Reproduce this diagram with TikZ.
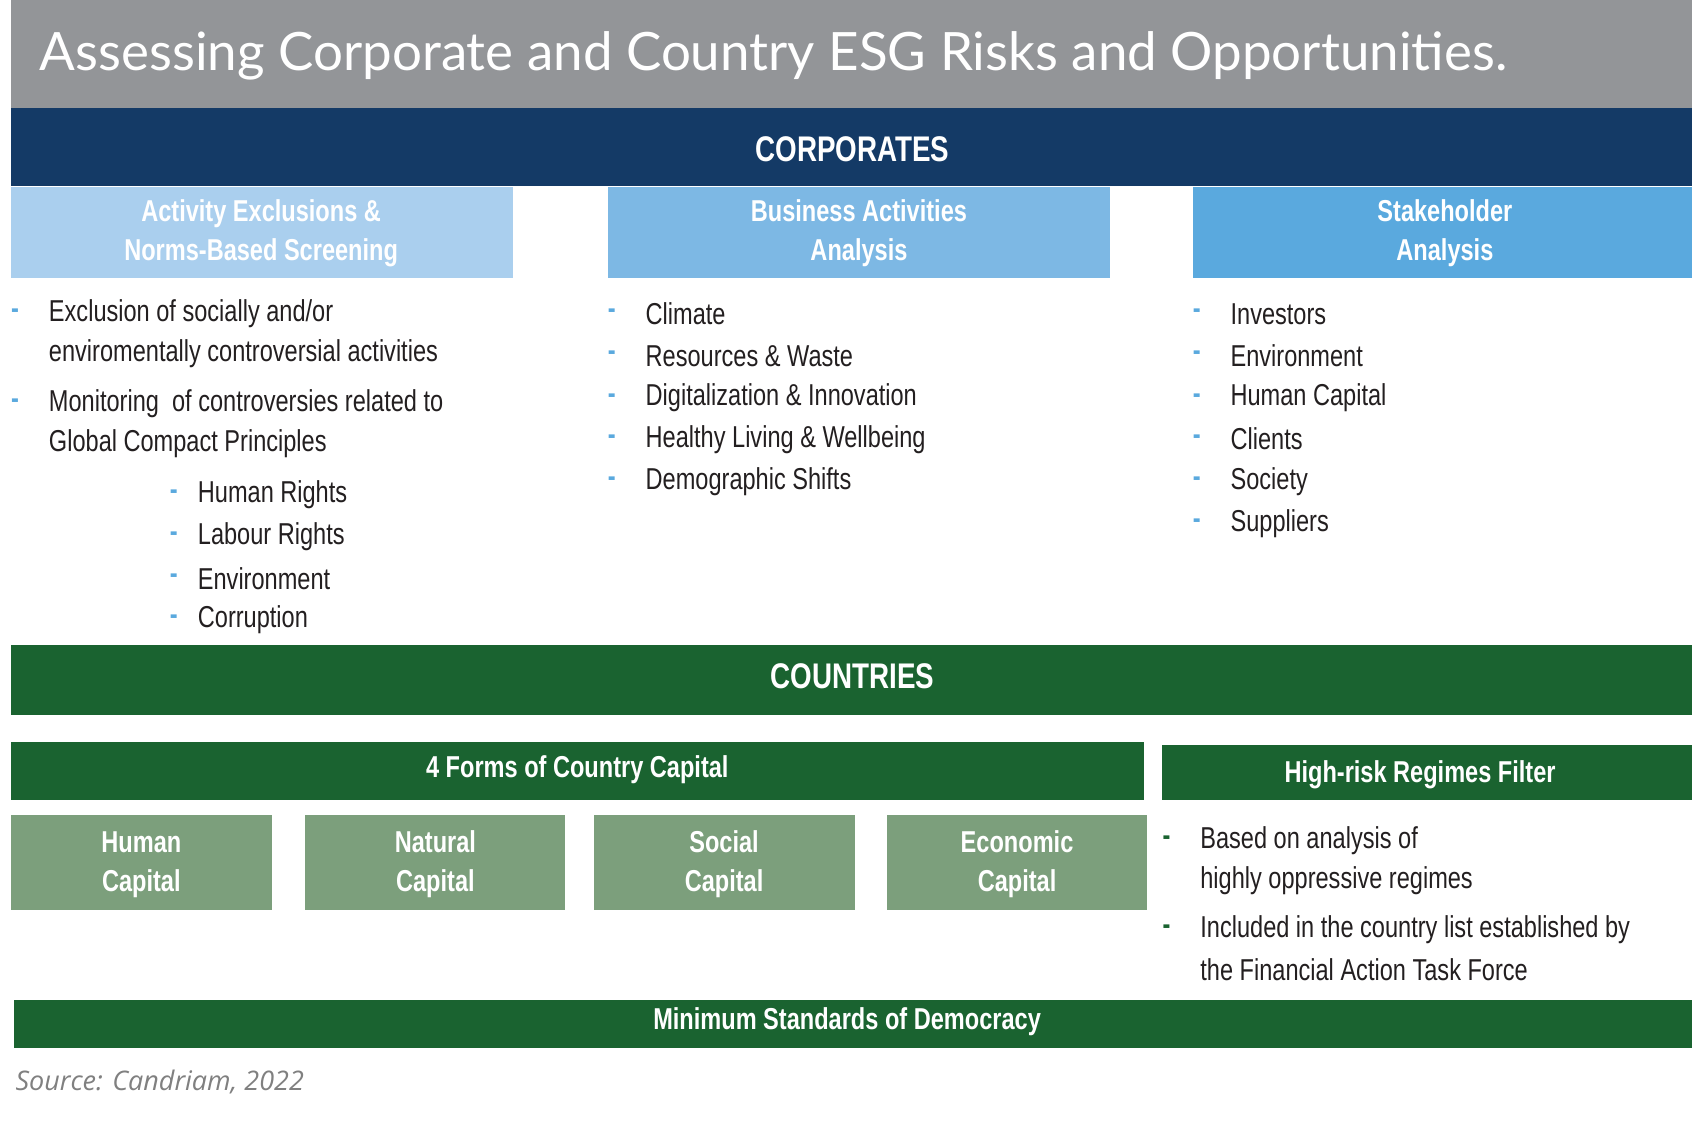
\documentclass[tikz,border=0pt]{standalone}
\usepackage{fontspec}
\setmainfont[FakeStretch=0.78]{Liberation Sans}
\newfontfamily\titlefont{Lato}
\newfontfamily\srcfont{Open Sans}
\definecolor{tgray}{HTML}{939598}
\definecolor{navy}{HTML}{143A66}
\definecolor{hA}{HTML}{AACFEE}
\definecolor{hB}{HTML}{7DB8E4}
\definecolor{hC}{HTML}{5AA9DE}
\definecolor{dgreen}{HTML}{1A6330}
\definecolor{lgreen}{HTML}{7C9F7C}
\definecolor{txt}{HTML}{231F20}
\begin{document}
\begin{tikzpicture}[x=0.5pt,y=-0.5pt,
  bar/.style={fill=#1,draw=none},
  hd/.style={text=white,font=\bfseries\fontsize{14}{18}\selectfont,align=center},
  big/.style={text=white,font=\bfseries\fontsize{16.5}{20}\selectfont},
  it/.style={anchor=west,text=txt,font=\fontsize{14}{18.5}\selectfont,inner sep=0},
  bd/.style={anchor=west,text=hC,font=\bfseries\fontsize{14}{18}\selectfont,inner sep=0},
  gd/.style={anchor=west,text=dgreen,font=\bfseries\fontsize{14}{18}\selectfont,inner sep=0}]
\useasboundingbox (0,0) rectangle (1568,1043);
\fill[white] (0,0) rectangle (1568,1043);
% title
\fill[tgray] (10,0) rectangle (1568,100);
\node[anchor=west,text=white,font=\titlefont\fontsize{24.5}{28}\selectfont] (title) at (30,52) {Assessing Corporate and Country ESG Risks and Opportunities.};
\fill[navy] (10,100) rectangle (1568,172);
\node[big] (corp) at (790,138) {CORPORATES};
% headers
\fill[hA] (10,173) rectangle (475,258);
\fill[hB] (563,173) rectangle (1029,258);
\fill[hC] (1106,173) rectangle (1568,258);
\node[hd] (hA) at (242,216) {Activity Exclusions \&\\Norms-Based Screening};
\node[hd] (hB) at (796,216) {Business Activities\\Analysis};
\node[hd] (hC) at (1339,216) {Stakeholder\\Analysis};
% col1
\foreach \y in {291,374} \node[bd] at (10,\y) {-};
\node[it] (a1) at (45,291) {Exclusion of socially and/or};
\node[it] (a2) at (45,328) {enviromentally controversial activities};
\node[it] (a3) at (45,374) {Monitoring\ \ of controversies related to};
\node[it] (a4) at (45,411) {Global Compact Principles};
\foreach \y/\t in {458/Human Rights,497/Labour Rights,536/Environment,574/Corruption}{
  \node[bd] at (157,\y) {-}; \node[it] at (183,\y) {\t};}
% col2
\foreach \y/\t in {291/Climate,330/Resources \& Waste,369/Digitalization \& Innovation,407/Healthy Living \& Wellbeing,446/Demographic Shifts}{
  \node[bd] at (563,\y) {-}; \node[it] at (598,\y) {\t};}
% col3
\foreach \y/\t in {291/Investors,330/Environment,369/Human Capital,407/Clients,446/Society,485/Suppliers}{
  \node[bd] at (1105,\y) {-}; \node[it] at (1140,\y) {\t};}
% countries
\fill[dgreen] (10,598) rectangle (1568,663);
\node[big] (ctry) at (790,627) {COUNTRIES};
\fill[dgreen] (10,688) rectangle (1060,741);
\node[hd] (forms) at (535,713) {4 Forms of Country Capital};
\fill[dgreen] (1077,690) rectangle (1568,741);
\node[hd] (hr) at (1316,718) {High-risk Regimes Filter};
\foreach \xa/\xb/\a/\b in {10/252/Human/Capital,283/524/Natural/Capital,550/792/Social/Capital,822/1063/Economic/Capital}{
  \fill[lgreen] (\xa,755) rectangle (\xb,843);
  \node[hd] at ({(\xa+\xb)/2},801) {\a\\\b};}
\node[gd] at (1077,779) {-};
\node[gd] at (1077,862) {-};
\node[it] (b1) at (1112,779) {Based on analysis of};
\node[it] (b2) at (1112,816) {highly oppressive regimes};
\node[it] (b3) at (1112,862) {Included in the country list established by};
\node[it] (b4) at (1112,899) {the Financial Action Task Force};
\fill[dgreen] (13,927) rectangle (1568,971);
\node[hd] (min) at (785,947) {Minimum Standards of Democracy};
\node[anchor=west,text=gray,font=\srcfont\itshape\fontsize{12.5}{15}\selectfont,inner sep=0] (src) at (14,1003) {Source: Candriam, 2022};
\end{tikzpicture}
\end{document}
